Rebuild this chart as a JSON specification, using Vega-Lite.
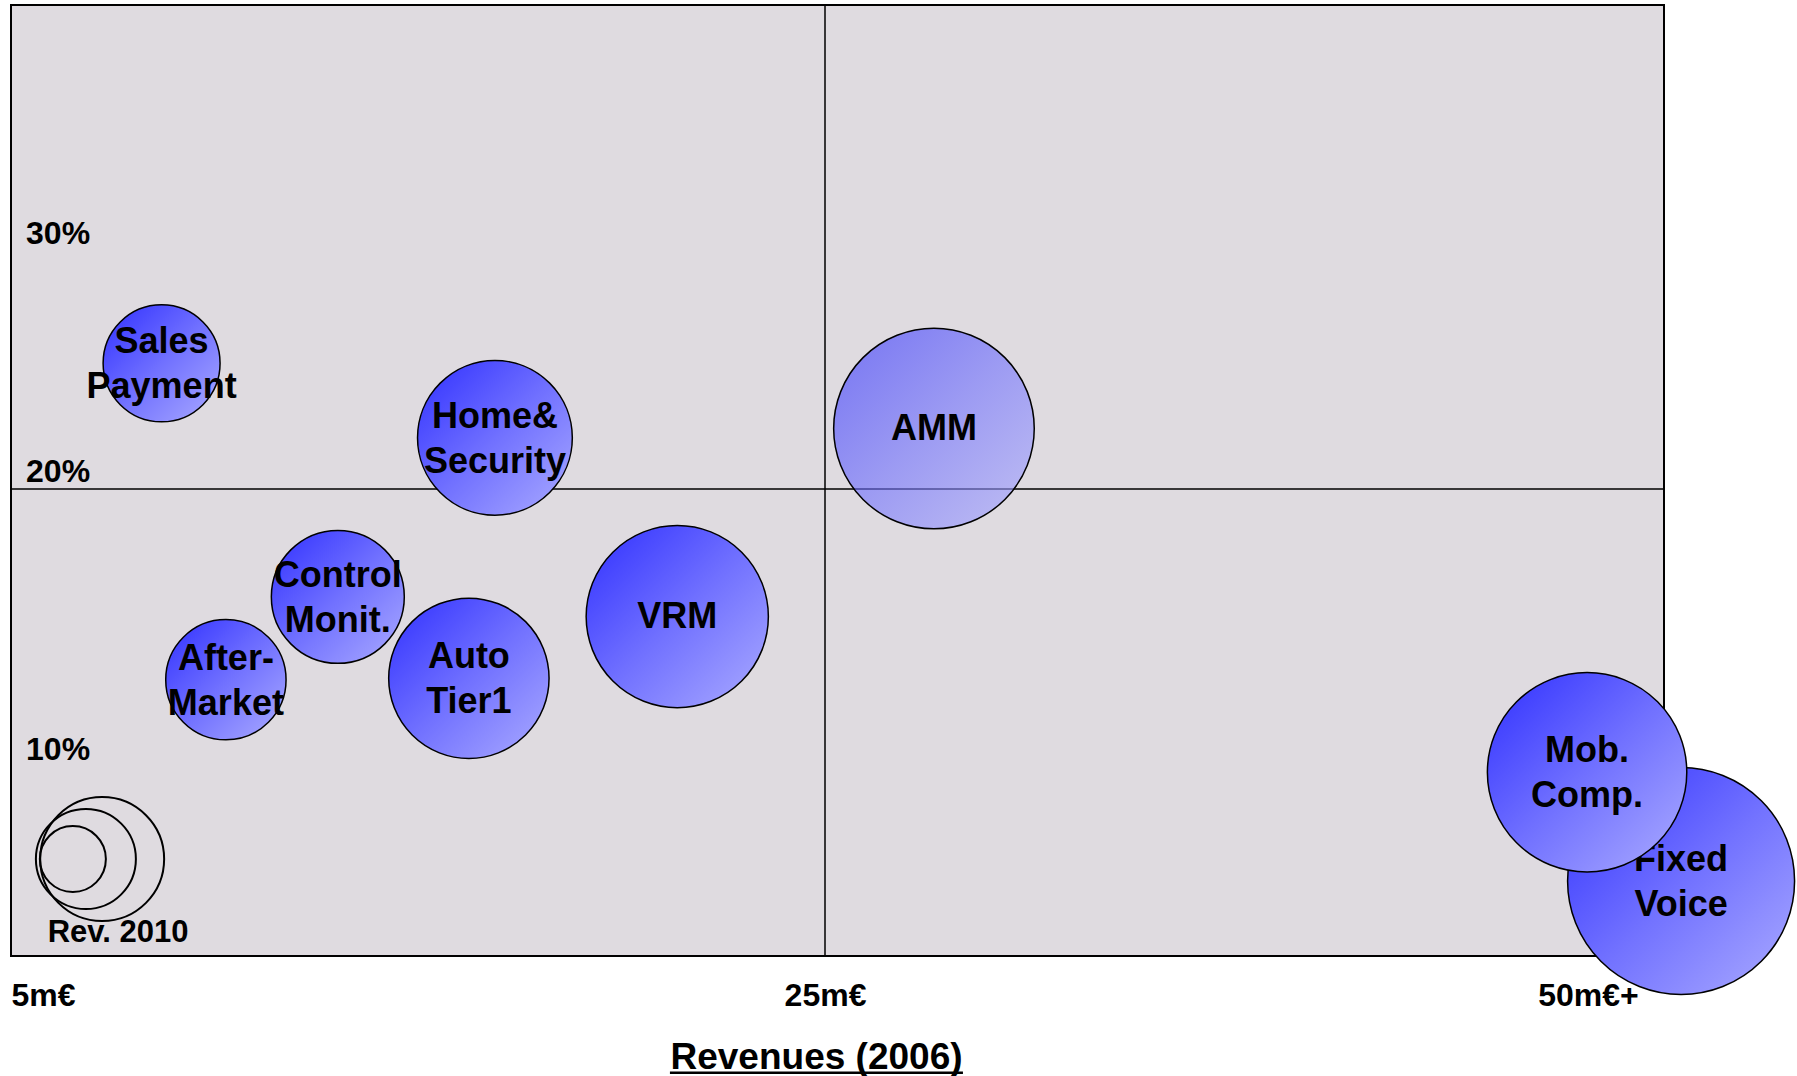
{
  "$schema": "https://vega.github.io/schema/vega-lite/v6.json",
  "width": 1653,
  "height": 951,
  "autosize": {"type": "none"},
  "padding": {"left": 11, "top": 5, "right": 133, "bottom": 120},
  "background": "white",
  "config": {
    "view": {"fill": "#dfdbe0", "stroke": "black", "strokeWidth": 2},
    "font": "Liberation Sans"
  },
  "datasets": {
    "bubbles": [
      {"segment": "Sales Payment", "label": "Sales\nPayment", "revenue2006": 8.70, "margin": 25.28, "revenue2010": 34.2},
      {"segment": "Home&Security", "label": "Home&\nSecurity", "revenue2006": 16.89, "margin": 22.15, "revenue2010": 59.9},
      {"segment": "AMM", "label": "AMM", "revenue2006": 28.57, "margin": 22.54, "revenue2010": 100.6},
      {"segment": "Control Monit.", "label": "Control\nMonit.", "revenue2006": 13.03, "margin": 16.12, "revenue2010": 44.2},
      {"segment": "After-Market", "label": "After-\nMarket", "revenue2006": 10.28, "margin": 13.14, "revenue2010": 36.2},
      {"segment": "Auto Tier1", "label": "Auto\nTier1", "revenue2006": 16.25, "margin": 13.19, "revenue2010": 64.3},
      {"segment": "VRM", "label": "VRM", "revenue2006": 21.37, "margin": 15.41, "revenue2010": 83.0},
      {"segment": "Fixed Voice", "label": "Fixed\nVoice", "revenue2006": 53.05, "margin": 5.90, "revenue2010": 128.8},
      {"segment": "Mob. Comp.", "label": "Mob.\nComp.", "revenue2006": 49.97, "margin": 9.81, "revenue2010": 99.4}
    ],
    "legendCircles": [
      {"revenue2006": 7.24, "margin": 6.69, "revenue2010": 38.4},
      {"revenue2006": 6.84, "margin": 6.69, "revenue2010": 25.0},
      {"revenue2006": 6.52, "margin": 6.69, "revenue2010": 10.9}
    ],
    "yLabels": [
      {"label": "30%", "revenue2006": 5.37, "margin": 30},
      {"label": "20%", "revenue2006": 5.37, "margin": 20},
      {"label": "10%", "revenue2006": 5.37, "margin": 10}
    ]
  },
  "layer": [
    {
      "data": {"values": [{"revenue2006": 25}]},
      "mark": {"type": "rule", "stroke": "black", "strokeWidth": 1.5},
      "encoding": {
        "x": {"field": "revenue2006", "type": "quantitative", "title": "Revenues (2006)",
          "scale": {"domain": [5, 25, 50], "range": [0, 814, 1577], "zero": false, "nice": false},
          "axis": {
            "values": [5, 25, 50],
            "labelExpr": "datum.value == 5 ? '5m€' : datum.value == 25 ? '25m€' : '50m€+'",
            "labelAlign": {"condition": {"test": "datum.value == 5", "value": "left"}, "value": "center"},
            "labelFont": "Liberation Sans", "labelFontSize": 32, "labelFontWeight": "bold", "labelColor": "black",
            "labelPadding": 24, "labelFlush": false, "labelOverlap": false, "labelBound": false,
            "ticks": false, "domain": false, "grid": false,
            "titleFont": "Liberation Sans", "titleFontSize": 37, "titleFontWeight": "bold", "titleColor": "black",
            "titleX": 805, "titleY": 112, "titleBaseline": "alphabetic", "titleAlign": "center"
          }
        }
      }
    },
    {
      "data": {"values": [{"margin": 20}]},
      "mark": {"type": "rule", "stroke": "black", "strokeWidth": 1.5},
      "encoding": {
        "y": {"field": "margin", "type": "quantitative", "scale": {"domain": [10, 20, 30], "range": [762, 484, 246], "zero": false, "nice": false}, "axis": null}
      }
    },
    {
      "data": {"name": "yLabels"},
      "mark": {"type": "text", "align": "left", "baseline": "middle", "dy": -17, "fontSize": 32, "fontWeight": "bold", "color": "black"},
      "encoding": {
        "x": {"field": "revenue2006", "type": "quantitative", "title": "Revenues (2006)",
          "scale": {"domain": [5, 25, 50], "range": [0, 814, 1577], "zero": false, "nice": false},
          "axis": {
            "values": [5, 25, 50],
            "labelExpr": "datum.value == 5 ? '5m€' : datum.value == 25 ? '25m€' : '50m€+'",
            "labelAlign": {"condition": {"test": "datum.value == 5", "value": "left"}, "value": "center"},
            "labelFont": "Liberation Sans", "labelFontSize": 32, "labelFontWeight": "bold", "labelColor": "black",
            "labelPadding": 24, "labelFlush": false, "labelOverlap": false, "labelBound": false,
            "ticks": false, "domain": false, "grid": false,
            "titleFont": "Liberation Sans", "titleFontSize": 37, "titleFontWeight": "bold", "titleColor": "black",
            "titleX": 805, "titleY": 112, "titleBaseline": "alphabetic", "titleAlign": "center"
          }
        },
        "y": {"field": "margin", "type": "quantitative", "scale": {"domain": [10, 20, 30], "range": [762, 484, 246], "zero": false, "nice": false}, "axis": null},
        "text": {"field": "label", "type": "nominal"}
      }
    },
    {
      "data": {"name": "legendCircles"},
      "mark": {"type": "circle", "filled": false, "stroke": "black", "strokeWidth": 2, "opacity": 1},
      "encoding": {
        "x": {"field": "revenue2006", "type": "quantitative", "title": "Revenues (2006)",
          "scale": {"domain": [5, 25, 50], "range": [0, 814, 1577], "zero": false, "nice": false},
          "axis": {
            "values": [5, 25, 50],
            "labelExpr": "datum.value == 5 ? '5m€' : datum.value == 25 ? '25m€' : '50m€+'",
            "labelAlign": {"condition": {"test": "datum.value == 5", "value": "left"}, "value": "center"},
            "labelFont": "Liberation Sans", "labelFontSize": 32, "labelFontWeight": "bold", "labelColor": "black",
            "labelPadding": 24, "labelFlush": false, "labelOverlap": false, "labelBound": false,
            "ticks": false, "domain": false, "grid": false,
            "titleFont": "Liberation Sans", "titleFontSize": 37, "titleFontWeight": "bold", "titleColor": "black",
            "titleX": 805, "titleY": 112, "titleBaseline": "alphabetic", "titleAlign": "center"
          }
        },
        "y": {"field": "margin", "type": "quantitative", "scale": {"domain": [10, 20, 30], "range": [762, 484, 246], "zero": false, "nice": false}, "axis": null},
        "size": {"field": "revenue2010", "type": "quantitative", "scale": {"type": "linear", "domain": [0, 100], "range": [0, 40000], "zero": true}, "legend": null}
      }
    },
    {
      "data": {"values": [{"label": "Rev. 2010", "revenue2006": 7.63, "margin": 4.03}]},
      "mark": {"type": "text", "align": "center", "baseline": "middle", "fontSize": 31, "fontWeight": "bold", "color": "black"},
      "encoding": {
        "x": {"field": "revenue2006", "type": "quantitative", "title": "Revenues (2006)",
          "scale": {"domain": [5, 25, 50], "range": [0, 814, 1577], "zero": false, "nice": false},
          "axis": {
            "values": [5, 25, 50],
            "labelExpr": "datum.value == 5 ? '5m€' : datum.value == 25 ? '25m€' : '50m€+'",
            "labelAlign": {"condition": {"test": "datum.value == 5", "value": "left"}, "value": "center"},
            "labelFont": "Liberation Sans", "labelFontSize": 32, "labelFontWeight": "bold", "labelColor": "black",
            "labelPadding": 24, "labelFlush": false, "labelOverlap": false, "labelBound": false,
            "ticks": false, "domain": false, "grid": false,
            "titleFont": "Liberation Sans", "titleFontSize": 37, "titleFontWeight": "bold", "titleColor": "black",
            "titleX": 805, "titleY": 112, "titleBaseline": "alphabetic", "titleAlign": "center"
          }
        },
        "y": {"field": "margin", "type": "quantitative", "scale": {"domain": [10, 20, 30], "range": [762, 484, 246], "zero": false, "nice": false}, "axis": null},
        "text": {"field": "label", "type": "nominal"}
      }
    },
    {
      "data": {"name": "bubbles"},
      "transform": [{"filter": "datum.segment !== 'Mob. Comp.'"}],
      "mark": {
        "type": "circle", "opacity": 1, "stroke": "black", "strokeWidth": 1.5,
        "fill": {"gradient": "linear", "x1": 0, "y1": 0, "x2": 1, "y2": 1, "stops": [{"offset": 0, "color": "#2f2fff"}, {"offset": 0.5, "color": "#7070ff"}, {"offset": 1, "color": "#ababff"}]}
      },
      "encoding": {
        "x": {"field": "revenue2006", "type": "quantitative", "title": "Revenues (2006)",
          "scale": {"domain": [5, 25, 50], "range": [0, 814, 1577], "zero": false, "nice": false},
          "axis": {
            "values": [5, 25, 50],
            "labelExpr": "datum.value == 5 ? '5m€' : datum.value == 25 ? '25m€' : '50m€+'",
            "labelAlign": {"condition": {"test": "datum.value == 5", "value": "left"}, "value": "center"},
            "labelFont": "Liberation Sans", "labelFontSize": 32, "labelFontWeight": "bold", "labelColor": "black",
            "labelPadding": 24, "labelFlush": false, "labelOverlap": false, "labelBound": false,
            "ticks": false, "domain": false, "grid": false,
            "titleFont": "Liberation Sans", "titleFontSize": 37, "titleFontWeight": "bold", "titleColor": "black",
            "titleX": 805, "titleY": 112, "titleBaseline": "alphabetic", "titleAlign": "center"
          }
        },
        "y": {"field": "margin", "type": "quantitative", "scale": {"domain": [10, 20, 30], "range": [762, 484, 246], "zero": false, "nice": false}, "axis": null},
        "size": {"field": "revenue2010", "type": "quantitative", "scale": {"type": "linear", "domain": [0, 100], "range": [0, 40000], "zero": true}, "legend": null},
        "fillOpacity": {"condition": {"test": "datum.segment === 'AMM'", "value": 0.6}, "value": 1}
      }
    },
    {
      "data": {"name": "bubbles"},
      "transform": [{"filter": "datum.segment !== 'Mob. Comp.' && datum.segment !== 'AMM' && datum.segment !== 'VRM'"}],
      "mark": {"type": "text", "align": "center", "baseline": "middle", "dy": -21, "lineBreak": "\n", "lineHeight": 45, "fontSize": 36, "fontWeight": "bold", "color": "black"},
      "encoding": {
        "x": {"field": "revenue2006", "type": "quantitative", "title": "Revenues (2006)",
          "scale": {"domain": [5, 25, 50], "range": [0, 814, 1577], "zero": false, "nice": false},
          "axis": {
            "values": [5, 25, 50],
            "labelExpr": "datum.value == 5 ? '5m€' : datum.value == 25 ? '25m€' : '50m€+'",
            "labelAlign": {"condition": {"test": "datum.value == 5", "value": "left"}, "value": "center"},
            "labelFont": "Liberation Sans", "labelFontSize": 32, "labelFontWeight": "bold", "labelColor": "black",
            "labelPadding": 24, "labelFlush": false, "labelOverlap": false, "labelBound": false,
            "ticks": false, "domain": false, "grid": false,
            "titleFont": "Liberation Sans", "titleFontSize": 37, "titleFontWeight": "bold", "titleColor": "black",
            "titleX": 805, "titleY": 112, "titleBaseline": "alphabetic", "titleAlign": "center"
          }
        },
        "y": {"field": "margin", "type": "quantitative", "scale": {"domain": [10, 20, 30], "range": [762, 484, 246], "zero": false, "nice": false}, "axis": null},
        "text": {"field": "label", "type": "nominal"}
      }
    },
    {
      "data": {"name": "bubbles"},
      "transform": [{"filter": "datum.segment === 'AMM' || datum.segment === 'VRM'"}],
      "mark": {"type": "text", "align": "center", "baseline": "middle", "fontSize": 36, "fontWeight": "bold", "color": "black"},
      "encoding": {
        "x": {"field": "revenue2006", "type": "quantitative", "title": "Revenues (2006)",
          "scale": {"domain": [5, 25, 50], "range": [0, 814, 1577], "zero": false, "nice": false},
          "axis": {
            "values": [5, 25, 50],
            "labelExpr": "datum.value == 5 ? '5m€' : datum.value == 25 ? '25m€' : '50m€+'",
            "labelAlign": {"condition": {"test": "datum.value == 5", "value": "left"}, "value": "center"},
            "labelFont": "Liberation Sans", "labelFontSize": 32, "labelFontWeight": "bold", "labelColor": "black",
            "labelPadding": 24, "labelFlush": false, "labelOverlap": false, "labelBound": false,
            "ticks": false, "domain": false, "grid": false,
            "titleFont": "Liberation Sans", "titleFontSize": 37, "titleFontWeight": "bold", "titleColor": "black",
            "titleX": 805, "titleY": 112, "titleBaseline": "alphabetic", "titleAlign": "center"
          }
        },
        "y": {"field": "margin", "type": "quantitative", "scale": {"domain": [10, 20, 30], "range": [762, 484, 246], "zero": false, "nice": false}, "axis": null},
        "text": {"field": "label", "type": "nominal"}
      }
    },
    {
      "data": {"name": "bubbles"},
      "transform": [{"filter": "datum.segment === 'Mob. Comp.'"}],
      "mark": {
        "type": "circle", "opacity": 1, "stroke": "black", "strokeWidth": 1.5,
        "fill": {"gradient": "linear", "x1": 0, "y1": 0, "x2": 1, "y2": 1, "stops": [{"offset": 0, "color": "#2f2fff"}, {"offset": 0.5, "color": "#7070ff"}, {"offset": 1, "color": "#ababff"}]}
      },
      "encoding": {
        "x": {"field": "revenue2006", "type": "quantitative", "title": "Revenues (2006)",
          "scale": {"domain": [5, 25, 50], "range": [0, 814, 1577], "zero": false, "nice": false},
          "axis": {
            "values": [5, 25, 50],
            "labelExpr": "datum.value == 5 ? '5m€' : datum.value == 25 ? '25m€' : '50m€+'",
            "labelAlign": {"condition": {"test": "datum.value == 5", "value": "left"}, "value": "center"},
            "labelFont": "Liberation Sans", "labelFontSize": 32, "labelFontWeight": "bold", "labelColor": "black",
            "labelPadding": 24, "labelFlush": false, "labelOverlap": false, "labelBound": false,
            "ticks": false, "domain": false, "grid": false,
            "titleFont": "Liberation Sans", "titleFontSize": 37, "titleFontWeight": "bold", "titleColor": "black",
            "titleX": 805, "titleY": 112, "titleBaseline": "alphabetic", "titleAlign": "center"
          }
        },
        "y": {"field": "margin", "type": "quantitative", "scale": {"domain": [10, 20, 30], "range": [762, 484, 246], "zero": false, "nice": false}, "axis": null},
        "size": {"field": "revenue2010", "type": "quantitative", "scale": {"type": "linear", "domain": [0, 100], "range": [0, 40000], "zero": true}, "legend": null}
      }
    },
    {
      "data": {"name": "bubbles"},
      "transform": [{"filter": "datum.segment === 'Mob. Comp.'"}],
      "mark": {"type": "text", "align": "center", "baseline": "middle", "dy": -21, "lineBreak": "\n", "lineHeight": 45, "fontSize": 36, "fontWeight": "bold", "color": "black"},
      "encoding": {
        "x": {"field": "revenue2006", "type": "quantitative", "title": "Revenues (2006)",
          "scale": {"domain": [5, 25, 50], "range": [0, 814, 1577], "zero": false, "nice": false},
          "axis": {
            "values": [5, 25, 50],
            "labelExpr": "datum.value == 5 ? '5m€' : datum.value == 25 ? '25m€' : '50m€+'",
            "labelAlign": {"condition": {"test": "datum.value == 5", "value": "left"}, "value": "center"},
            "labelFont": "Liberation Sans", "labelFontSize": 32, "labelFontWeight": "bold", "labelColor": "black",
            "labelPadding": 24, "labelFlush": false, "labelOverlap": false, "labelBound": false,
            "ticks": false, "domain": false, "grid": false,
            "titleFont": "Liberation Sans", "titleFontSize": 37, "titleFontWeight": "bold", "titleColor": "black",
            "titleX": 805, "titleY": 112, "titleBaseline": "alphabetic", "titleAlign": "center"
          }
        },
        "y": {"field": "margin", "type": "quantitative", "scale": {"domain": [10, 20, 30], "range": [762, 484, 246], "zero": false, "nice": false}, "axis": null},
        "text": {"field": "label", "type": "nominal"}
      }
    },
    {
      "data": {"values": [{"revenue2006": 21.19, "revenue2006End": 29.52, "margin": -1.0}]},
      "mark": {"type": "rule", "stroke": "black", "strokeWidth": 2.5},
      "encoding": {
        "x": {"field": "revenue2006", "type": "quantitative", "title": "Revenues (2006)",
          "scale": {"domain": [5, 25, 50], "range": [0, 814, 1577], "zero": false, "nice": false},
          "axis": {
            "values": [5, 25, 50],
            "labelExpr": "datum.value == 5 ? '5m€' : datum.value == 25 ? '25m€' : '50m€+'",
            "labelAlign": {"condition": {"test": "datum.value == 5", "value": "left"}, "value": "center"},
            "labelFont": "Liberation Sans", "labelFontSize": 32, "labelFontWeight": "bold", "labelColor": "black",
            "labelPadding": 24, "labelFlush": false, "labelOverlap": false, "labelBound": false,
            "ticks": false, "domain": false, "grid": false,
            "titleFont": "Liberation Sans", "titleFontSize": 37, "titleFontWeight": "bold", "titleColor": "black",
            "titleX": 805, "titleY": 112, "titleBaseline": "alphabetic", "titleAlign": "center"
          }
        },
        "x2": {"field": "revenue2006End"},
        "y": {"field": "margin", "type": "quantitative", "scale": {"domain": [10, 20, 30], "range": [762, 484, 246], "zero": false, "nice": false}, "axis": null}
      }
    }
  ]
}
